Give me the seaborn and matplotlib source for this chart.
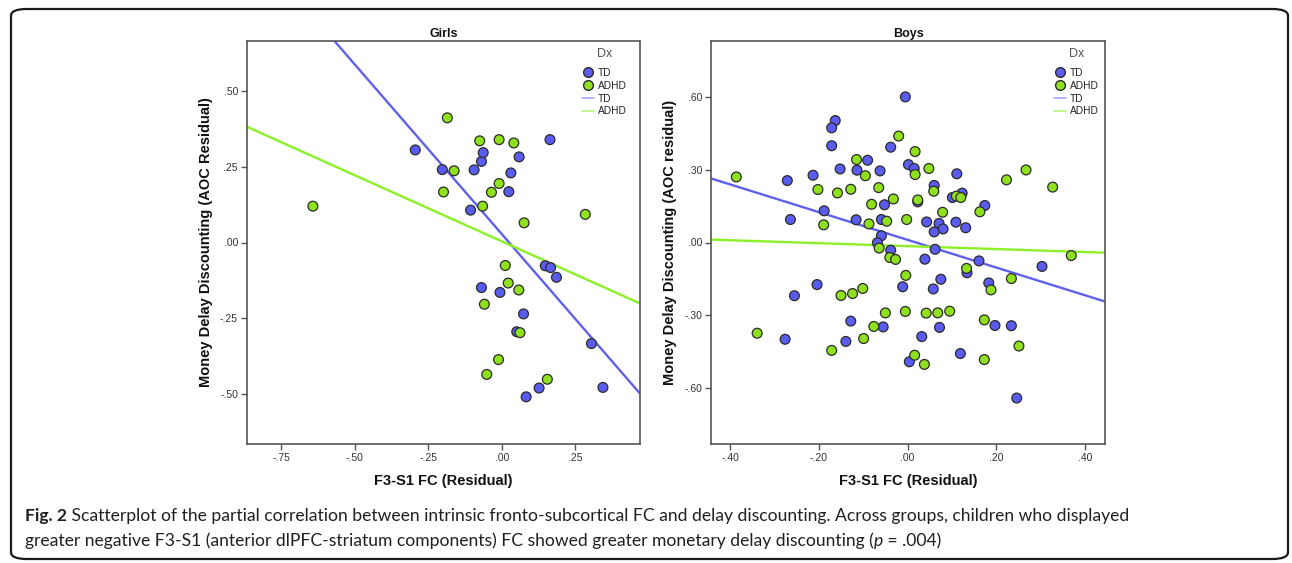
import numpy as np
import pandas as pd
import matplotlib
matplotlib.use("Agg")
import matplotlib.pyplot as plt
import seaborn as sns
from matplotlib.lines import Line2D
from matplotlib.patches import FancyBboxPatch

# ---------------- data ----------------
girls_td_x = [-0.294, -0.202, -0.094, -0.069, -0.063, 0.059, 0.031, 0.024, -0.106, 0.164,
              0.148, 0.166, 0.186, -0.069, -0.006, 0.074, 0.051, 0.305, 0.083, 0.127, 0.344]
girls_td_y = [0.306, 0.241, 0.240, 0.268, 0.297, 0.283, 0.230, 0.168, 0.107, 0.340,
              -0.077, -0.083, -0.115, -0.149, -0.165, -0.236, -0.295, -0.334, -0.510, -0.481, -0.479]
girls_adhd_x = [-0.642, -0.185, -0.075, -0.009, 0.041, -0.162, -0.198, -0.009, -0.035, -0.065,
                0.076, 0.284, 0.012, 0.022, 0.058, -0.059, 0.062, -0.011, -0.051, 0.155]
girls_adhd_y = [0.120, 0.412, 0.336, 0.340, 0.329, 0.237, 0.167, 0.195, 0.166, 0.120,
                0.065, 0.093, -0.076, -0.134, -0.157, -0.204, -0.298, -0.387, -0.436, -0.452]

boys_td_x = [-0.005, -0.163, -0.171, -0.171, -0.038, -0.090, -0.152, -0.114, -0.062, 0.002,
             0.015, -0.213, -0.271, 0.111, 0.060, 0.123, 0.101, 0.174, -0.052, 0.023,
             -0.188, -0.264, -0.116, -0.059, 0.043, 0.071, 0.080, 0.109, 0.131, 0.060,
             -0.059, -0.068, 0.062, -0.038, 0.039, 0.161, 0.303, 0.134, 0.075, 0.183,
             -0.204, -0.011, 0.058, -0.255, -0.128, -0.055, 0.072, 0.197, 0.234, 0.032,
             -0.276, -0.139, 0.119, 0.004, 0.246]
boys_td_y = [0.602, 0.504, 0.474, 0.400, 0.394, 0.340, 0.304, 0.299, 0.296, 0.322,
             0.306, 0.278, 0.256, 0.284, 0.236, 0.204, 0.186, 0.153, 0.156, 0.168,
             0.131, 0.095, 0.094, 0.095, 0.085, 0.079, 0.056, 0.084, 0.061, 0.044,
             0.028, -0.001, -0.028, -0.032, -0.069, -0.076, -0.099, -0.125, -0.152, -0.167,
             -0.174, -0.183, -0.192, -0.220, -0.325, -0.349, -0.351, -0.343, -0.344, -0.389,
             -0.400, -0.409, -0.459, -0.493, -0.643]
boys_adhd_x = [-0.386, -0.339, -0.020, 0.017, -0.115, -0.095, 0.017, 0.048, 0.267, 0.223,
               0.327, -0.202, -0.128, -0.158, -0.065, 0.059, -0.032, 0.023, 0.110, 0.120,
               -0.081, 0.079, 0.163, -0.189, -0.087, -0.047, -0.002, -0.064, -0.040, -0.027,
               0.133, 0.369, -0.004, 0.234, 0.188, -0.101, -0.124, -0.150, -0.050, -0.005,
               0.042, 0.068, 0.095, -0.076, 0.173, -0.099, -0.171, 0.016, 0.038, 0.173, 0.251]
boys_adhd_y = [0.271, -0.375, 0.440, 0.376, 0.343, 0.276, 0.281, 0.306, 0.300, 0.259,
               0.229, 0.219, 0.220, 0.205, 0.227, 0.212, 0.180, 0.176, 0.192, 0.186,
               0.158, 0.125, 0.127, 0.073, 0.077, 0.088, 0.095, -0.023, -0.062, -0.070,
               -0.107, -0.054, -0.136, -0.149, -0.196, -0.190, -0.211, -0.219, -0.291, -0.285,
               -0.292, -0.291, -0.284, -0.347, -0.320, -0.397, -0.446, -0.466, -0.504, -0.484, -0.428]

groups = ["TD", "ADHD"]
# fit lines (slope, intercept), order = groups
girls_fit_slopes = [-1.122, -0.437]
girls_fit_intercepts = [0.028, 0.004]
boys_fit_slopes = [-0.573, -0.061]
boys_fit_intercepts = [0.011, -0.015]

girls_xticks = [-0.75, -0.50, -0.25, 0.00, 0.25]
girls_xticklabels = ["-.75", "-.50", "-.25", ".00", ".25"]
girls_yticks = [-0.50, -0.25, 0.00, 0.25, 0.50]
girls_yticklabels = ["-.50", "-.25", ".00", ".25", ".50"]
boys_xticks = [-0.40, -0.20, 0.00, 0.20, 0.40]
boys_xticklabels = ["-.40", "-.20", ".00", ".20", ".40"]
boys_yticks = [-0.60, -0.30, 0.00, 0.30, 0.60]
boys_yticklabels = ["-.60", "-.30", ".00", ".30", ".60"]

caption_bold = "Fig. 2"
caption_line1 = (" Scatterplot of the partial correlation between intrinsic fronto-subcortical FC "
                 "and delay discounting. Across groups, children who displayed")
caption_line2a = ("greater negative F3-S1 (anterior dlPFC-striatum components) FC showed greater "
                  "monetary delay discounting (")
caption_line2b = "p"
caption_line2c = " = .004)"

# ---------------- style ----------------
sns.set_theme(style="white")
plt.rcParams["font.family"] = ["Liberation Sans", "DejaVu Sans"]

marker_colors = {"TD": "#5a5cf0", "ADHD": "#8ee11c"}
line_colors = {"TD": "#5f61ee", "ADHD": "#8cf028"}
legend_line_colors = {"TD": "#a6a8f6", "ADHD": "#b6f27a"}
spine_color = "#555555"

fig = plt.figure(figsize=(12.92, 5.63), dpi=100)
W, H = 1292, 563


def axes_px(x0, y0, x1, y1):
    return fig.add_axes([x0 / W, 1 - y1 / H, (x1 - x0) / W, (y1 - y0) / H])


def panel(ax, td_x, td_y, ad_x, ad_y, slopes, intercepts, xlim, ylim,
          xticks, xticklabels, yticks, yticklabels, title, ylabel, leg_shift_px):
    df = pd.DataFrame({
        "x": td_x + ad_x,
        "y": td_y + ad_y,
        "Dx": ["TD"] * len(td_x) + ["ADHD"] * len(ad_x),
    })
    xs = np.array(xlim)
    for g, m, b in zip(groups, slopes, intercepts):
        ldf = pd.DataFrame({"x": xs, "y": m * xs + b})
        sns.lineplot(data=ldf, x="x", y="y", color=line_colors[g], lw=1.7, ax=ax, zorder=2)
    sns.scatterplot(data=df, x="x", y="y", hue="Dx", palette=marker_colors, s=50,
                    edgecolor="#2b2b2b", linewidth=0.9, ax=ax, legend=False, zorder=3)
    ax.set_xlim(xlim)
    ax.set_ylim(ylim)
    ax.set_xticks(xticks)
    ax.set_xticklabels(xticklabels)
    ax.set_yticks(yticks)
    ax.set_yticklabels(yticklabels)
    ax.tick_params(axis="both", which="both", direction="out", length=4.5, width=1.0,
                   color=spine_color, labelsize=7.5, labelcolor="#333333", pad=2,
                   bottom=True, left=True, top=False, right=False)
    for sp in ax.spines.values():
        sp.set_color(spine_color)
        sp.set_linewidth(1.2)
        sp.set_visible(True)
    ax.set_title(title, fontsize=9, fontweight="bold", pad=3, color="#111111")
    ax.set_xlabel("F3-S1 FC (Residual)", fontsize=10.5, fontweight="bold", labelpad=8,
                  color="#111111")
    ax.set_ylabel(ylabel, fontsize=10.5, fontweight="bold", labelpad=5, color="#111111")

    handles = [
        Line2D([], [], marker="o", ls="", markerfacecolor=marker_colors["TD"],
               markeredgecolor="#2b2b2b", markersize=7, label="TD"),
        Line2D([], [], marker="o", ls="", markerfacecolor=marker_colors["ADHD"],
               markeredgecolor="#2b2b2b", markersize=7, label="ADHD"),
        Line2D([], [], color=legend_line_colors["TD"], lw=1.2, label="TD"),
        Line2D([], [], color=legend_line_colors["ADHD"], lw=1.2, label="ADHD"),
    ]
    bw = ax.get_position().width * W
    leg = ax.legend(handles=handles, title="Dx", loc="upper right", frameon=False,
                    fontsize=7.3, title_fontsize=9, handlelength=1.2, handletextpad=0.3,
                    labelspacing=0.28, borderaxespad=0.25,
                    bbox_to_anchor=(1.0 - leg_shift_px / bw, 1.0))
    leg._legend_box.sep = 6
    leg.get_title().set_color("#555555")
    for t in leg.get_texts():
        t.set_color("#222222")


ax1 = axes_px(247, 41, 640, 444)
panel(ax1, girls_td_x, girls_td_y, girls_adhd_x, girls_adhd_y,
      girls_fit_slopes, girls_fit_intercepts, (-0.866, 0.470), (-0.666, 0.666),
      girls_xticks, girls_xticklabels, girls_yticks, girls_yticklabels,
      "Girls", "Money Delay Discounting (AOC Residual)", 7)

ax2 = axes_px(711, 41, 1105, 444)
panel(ax2, boys_td_x, boys_td_y, boys_adhd_x, boys_adhd_y,
      boys_fit_slopes, boys_fit_intercepts, (-0.443, 0.445), (-0.833, 0.833),
      boys_xticks, boys_xticklabels, boys_yticks, boys_yticklabels,
      "Boys", "Money Delay Discounting (AOC residual)", 0)

# ---------------- outer rounded frame ----------------
frame = FancyBboxPatch((11 / W, 4 / H), (1288 - 11) / W, (554 - 4) / H,
                       boxstyle="round,pad=0,rounding_size=0.012",
                       transform=fig.transFigure, fill=False, edgecolor="#1a1a1a",
                       linewidth=1.6, zorder=0)
fig.add_artist(frame)

# ---------------- caption ----------------
cap_font = ["Lato", "DejaVu Sans"]
cap_size = 12.6
cap_color = "#231f20"
y1 = 1 - 521 / H
y2 = 1 - 546 / H
x0 = 25 / W
renderer = fig.canvas.get_renderer()
t_b = fig.text(x0, y1, caption_bold, fontsize=cap_size, fontweight="bold",
               family=cap_font, color=cap_color, va="baseline")
bb = t_b.get_window_extent(renderer)
fig.text(bb.x1 / W, y1, caption_line1, fontsize=cap_size, family=cap_font,
         color=cap_color, va="baseline")
t2a = fig.text(x0, y2, caption_line2a, fontsize=cap_size, family=cap_font,
               color=cap_color, va="baseline")
bb2 = t2a.get_window_extent(renderer)
t2b = fig.text(bb2.x1 / W, y2, caption_line2b, fontsize=cap_size, family=cap_font,
               style="italic", color=cap_color, va="baseline")
bb3 = t2b.get_window_extent(renderer)
fig.text(bb3.x1 / W, y2, caption_line2c, fontsize=cap_size, family=cap_font,
         color=cap_color, va="baseline")

fig.savefig("out.png", dpi=100)
